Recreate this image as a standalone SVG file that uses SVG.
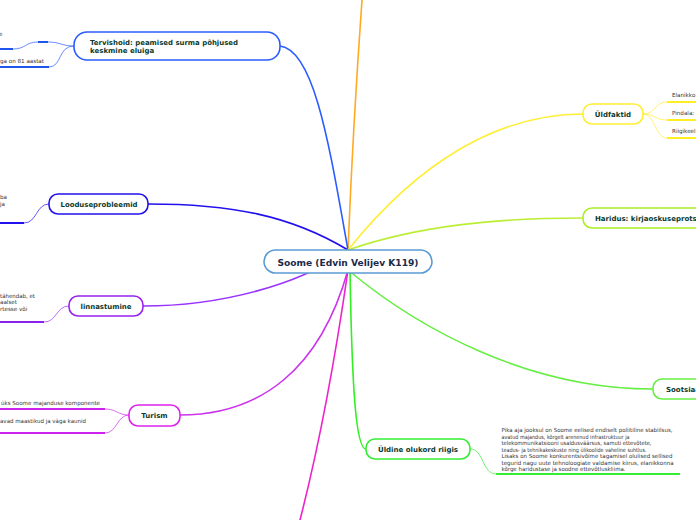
<svg xmlns="http://www.w3.org/2000/svg" width="696" height="520" viewBox="0 0 696 520">
<style>
.nt{font-family:"DejaVu Sans","Liberation Sans",sans-serif;font-weight:bold;font-size:7px;fill:#0d3b2e}
.st{font-family:"DejaVu Sans","Liberation Sans",sans-serif;font-size:5.6px;fill:#333}
.c{fill:none;stroke-width:1.6;stroke-linecap:round}
.s{fill:none;stroke-width:1;opacity:0.7}
.u{fill:none;stroke-width:2}
.n{fill:#fff;stroke-width:1.6}
</style>
<rect width="696" height="520" fill="#fff"/>
<g id="connectors">
<path class="c" stroke="#ffaa22" d="M348,250 C352,150 357,70 362,0"/>
<path class="c" stroke="#2a5cff" d="M348,250 C330,150 315,50 280,46"/>
<path class="c" stroke="#2211ee" d="M348,250 C290,215 230,204 148,204"/>
<path class="c" stroke="#9933ff" d="M348,250 C300,285 220,306 143,306"/>
<path class="c" stroke="#cc33ee" d="M348,270 C320,370 260,415 180,415"/>
<path class="c" stroke="#ee22cc" d="M348,270 C335,360 318,450 300,520"/>
<path class="c" stroke="#ffee33" d="M348,250 C420,160 500,114 583,114"/>
<path class="c" stroke="#bbee33" d="M348,250 C420,225 500,218 583,218"/>
<path class="c" stroke="#66ee44" d="M348,270 C420,330 530,389 653,389"/>
<path class="c" stroke="#33ee22" d="M350,270 C352,390 356,449 366,449"/>
<path class="s" stroke="#2a5cff" d="M74,46 C62,46 60,42 48,42"/>
<path class="u" stroke="#2255ee" d="M38,42 H48"/>
<path class="s" stroke="#2a5cff" d="M38,42 C25,42 26,49 13,49"/>
<path class="u" stroke="#2255ee" d="M0,49 H13"/>
<path class="s" stroke="#2a5cff" d="M74,46 C58,46 62,67 49,67"/>
<path class="u" stroke="#2255ee" d="M0,67 H49"/>
<path class="s" stroke="#2211ee" d="M49,204 C36,204 37,223 24,223"/>
<path class="u" stroke="#2211ee" d="M0,223 H24"/>
<path class="s" stroke="#9933ff" d="M69,306 C56,306 57,322 44,322"/>
<path class="u" stroke="#8822ee" d="M0,322 H44"/>
<path class="s" stroke="#cc33ee" d="M129,415 C117,415 117,409 105,409"/>
<path class="u" stroke="#cc22ee" d="M0,409 H105"/>
<path class="s" stroke="#cc33ee" d="M129,415 C117,415 117,433 105,433"/>
<path class="u" stroke="#cc22ee" d="M0,433 H105"/>
<path class="s" stroke="#ffee33" d="M643,114 C655,114 655,102 667,102"/>
<path class="s" stroke="#ffee33" d="M643,114 C655,114 655,120 667,120"/>
<path class="s" stroke="#ffee33" d="M643,114 C655,114 655,138 667,138"/>
<path class="u" stroke="#ffee22" d="M667,102 H696 M667,120 H696 M667,138 H696"/>
<path class="s" stroke="#33ee33" d="M470,449 C484,449 482,474 496,474"/>
<path class="u" stroke="#33ee33" d="M496,474 H680"/>
</g>
<g id="center">
<rect class="n" x="264" y="250" width="168" height="23" rx="11.5" stroke="#5b9bd5"/>
<text x="348" y="266" text-anchor="middle" font-family="DejaVu Sans,sans-serif" font-weight="bold" font-size="8.6" fill="#1b2a4a" textLength="141" lengthAdjust="spacingAndGlyphs">Soome (Edvin Velijev K119)</text>
</g>
<g id="tervishoid">
<rect class="n" x="74" y="32" width="206" height="28" rx="13" stroke="#2a5cff"/>
<text class="nt" x="90" y="45" textLength="148" lengthAdjust="spacingAndGlyphs">Tervishoid: peamised surma põhjused</text>
<text class="nt" x="90" y="53">keskmine eluiga</text>
<text class="st" x="-1" y="36">e</text>
<text class="st" x="0" y="63">ga on 81 aastat</text>
</g>
<g id="looduseprobleemid">
<rect class="n" x="49" y="194" width="99" height="20" rx="9" stroke="#2211ee"/>
<text class="nt" x="99" y="207" text-anchor="middle" textLength="77" lengthAdjust="spacingAndGlyphs">Looduseprobleemid</text>
<text class="st" x="0" y="199">ba</text>
<text class="st" x="0" y="206">ja</text>
</g>
<g id="linnastumine">
<rect class="n" x="69" y="296" width="74" height="20" rx="9" stroke="#9922ee"/>
<text class="nt" x="106" y="309" text-anchor="middle" textLength="51" lengthAdjust="spacingAndGlyphs">linnastumine</text>
<text class="st" x="0" y="298" textLength="35" lengthAdjust="spacingAndGlyphs">tähendab, et</text>
<text class="st" x="0" y="304">aalset</text>
<text class="st" x="0" y="311">rtesse või</text>
</g>
<g id="turism">
<rect class="n" x="129" y="405" width="51" height="21" rx="9" stroke="#dd22ee"/>
<text class="nt" x="154.5" y="418" text-anchor="middle">Turism</text>
<text class="st" x="1" y="405" textLength="99" lengthAdjust="spacingAndGlyphs">üks Soome majanduse komponente</text>
<text class="st" x="0" y="423" textLength="86" lengthAdjust="spacingAndGlyphs">avad maastikud ja väga kaunid</text>
</g>
<g id="uldfaktid">
<rect class="n" x="583" y="104" width="60" height="20" rx="9" stroke="#ffee33"/>
<text class="nt" x="613" y="117" text-anchor="middle">Üldfaktid</text>
<text class="st" x="672" y="97">Elanikko</text>
<text class="st" x="672" y="115">Pindala:</text>
<text class="st" x="672" y="133">Riigikeel</text>
</g>
<g id="haridus">
<rect class="n" x="583" y="208" width="140" height="20" rx="9" stroke="#aaee22"/>
<text class="nt" x="595" y="221">Haridus: kirjaoskuseprots</text>
</g>
<g id="sootsiaal">
<rect class="n" x="653" y="379" width="80" height="20" rx="9" stroke="#66ee44"/>
<text class="nt" x="666" y="392">Sootsiaa</text>
</g>
<g id="uldine">
<rect class="n" x="366" y="439" width="104" height="20" rx="9" stroke="#33ee33"/>
<text class="nt" x="418" y="452" text-anchor="middle" textLength="80" lengthAdjust="spacingAndGlyphs">Üldine olukord riigis</text>
<text class="st" x="501.5" y="432" textLength="171" lengthAdjust="spacingAndGlyphs">Pika aja jooksul on Soome eelised endiselt poliitiline stabiilsus,</text>
<text class="st" x="501.5" y="438.5" textLength="128" lengthAdjust="spacingAndGlyphs">avatud majandus, kõrgelt arenenud infrastruktuur ja</text>
<text class="st" x="501.5" y="445" textLength="150" lengthAdjust="spacingAndGlyphs">telekommunikatsiooni usaldusväärsus, samuti ettevõtete,</text>
<text class="st" x="501.5" y="451.5" textLength="145" lengthAdjust="spacingAndGlyphs">teadus- ja tehnikakeskuste ning ülikoolide vaheline suhtlus.</text>
<text class="st" x="501.5" y="458" textLength="171" lengthAdjust="spacingAndGlyphs">Lisaks on Soome konkurentsivõime tagamisel olulised sellised</text>
<text class="st" x="501.5" y="464.5" textLength="172" lengthAdjust="spacingAndGlyphs">tegurid nagu uute tehnoloogiate valdamise kiirus, elanikkonna</text>
<text class="st" x="501.5" y="471" textLength="124" lengthAdjust="spacingAndGlyphs">kõrge haridustase ja soodne ettevõtluskliima.</text>
</g>
</svg>
